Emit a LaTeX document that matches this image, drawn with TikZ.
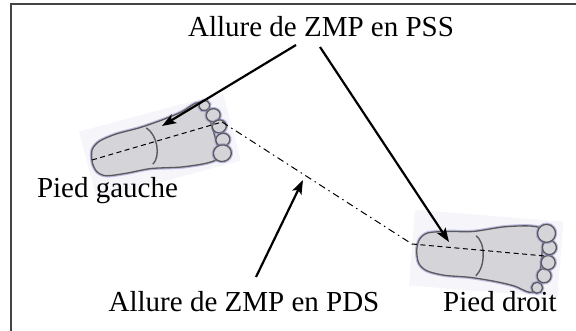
\documentclass[tikz,border=0pt]{standalone}
\usepackage{fontspec}
\setmainfont{Liberation Serif}
\usetikzlibrary{arrows.meta}

\definecolor{solefill}{HTML}{D4D4D9}
\definecolor{soleline}{HTML}{5A5A5E}
\definecolor{solehalo}{HTML}{8C8CC8}
\definecolor{photobg}{HTML}{F6F6FA}
\definecolor{framegray}{HTML}{444444}

\tikzset{
  label text/.style={font=\fontsize{29}{30}\selectfont, inner sep=0pt, anchor=base},
  pointer/.style={line width=2.2pt, -{Stealth[length=14pt,width=10pt,inset=3pt]}},
  sspath/.style={line width=1pt, dash pattern=on 5pt off 3.5pt},
  dspath/.style={line width=1pt, dash pattern=on 7pt off 4pt on 1.5pt off 4pt},
  sole/.style={fill=solefill, draw=soleline, line width=1.3pt},
  halo/.style={draw=solehalo, line width=3.5pt, opacity=0.55},
  photo/.style={fill=photobg},
}

% one sole seen from below, heel at the origin, toes towards +x, big toe on +y
\newcommand{\soleoutline}{plot[smooth cycle] coordinates {(0,-3) (3,-16) (12,-23) (30,-26) (55,-26) (80,-28) (100,-31) (115,-36) (123,-32) (125,0) (124,26) (112,30) (85,27) (55,20) (30,18) (10,15) (2,8)}}
\newcommand{\footprint}{%
  \fill[photo] (-5,-39) rectangle (144,37);
  \draw[halo] \soleoutline;
  \path[sole] \soleoutline;
  \foreach \tx/\ty/\tr in {123/-31/5.5, 129/-18.5/7, 132/-5/7, 132/10/7, 128/24/9} {
    \draw[halo] (\tx,\ty) circle (\tr);
    \path[sole] (\tx,\ty) circle (\tr);
  }
  \draw[soleline, line width=1.4pt] (58,16) .. controls (68,10) and (70,-14) .. (61,-24);
}

\begin{document}
\begin{tikzpicture}[x=1pt, y=1pt]
  \useasboundingbox (0,0) rectangle (576,330);

  % frame
  \draw[framegray, line width=1.6pt] (11,-10) -- (11,326) -- (590,326);

  % the two feet
  \begin{scope}[shift={(93,165)}, rotate=15, yscale=-0.92]
    \footprint
  \end{scope}
  \begin{scope}[shift={(417,83)}, rotate=-4.6]
    \footprint
  \end{scope}

  % ZMP trajectory
  \coordinate (heelL) at (92,170);
  \coordinate (toeL)  at (222,208);
  \coordinate (bend)  at (412,86);
  \coordinate (toeR)  at (545,74);
  \draw[sspath] (heelL) -- (toeL);
  \draw[dspath] (toeL) -- (bend);
  \draw[sspath] (bend) -- (toeR);

  % labels
  \node[label text] (pss)    at (321,293)   {Allure de ZMP en PSS};
  \node[label text] (gauche) at (107.5,133) {Pied gauche};
  \node[label text] (pds)    at (244,19)    {Allure de ZMP en PDS};
  \node[label text] (droit)  at (500,19)    {Pied droit};

  % pointers
  \coordinate (pssL) at (296,285);
  \coordinate (tipL) at (162,204);
  \coordinate (pssR) at (320,283);
  \coordinate (tipR) at (449,88);
  \coordinate (pdsA) at (256,53);
  \coordinate (tipD) at (303,150);
  \draw[pointer] (pssL) -- (tipL);
  \draw[pointer] (pssR) -- (tipR);
  \draw[pointer] (pdsA) -- (tipD);
\end{tikzpicture}
\end{document}
